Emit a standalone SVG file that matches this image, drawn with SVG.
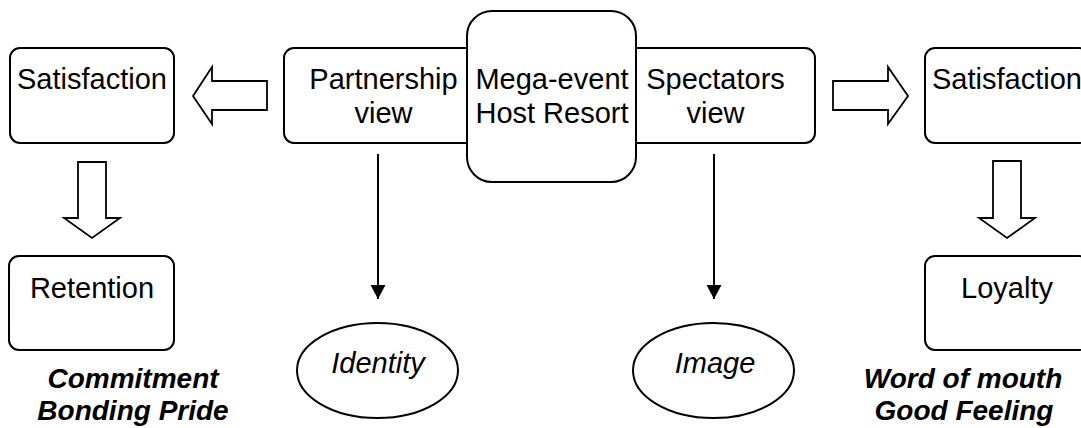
<svg xmlns="http://www.w3.org/2000/svg" width="1081" height="428" viewBox="0 0 1081 428">
  <defs>
    <style>
      .box { fill: #ffffff; stroke: #000000; stroke-width: 2; }
      .block { fill: #ffffff; stroke: #000000; stroke-width: 1.8; stroke-linejoin: miter; }
      .link { stroke: #000000; stroke-width: 2; fill: none; }
      .lbl { font-family: "Liberation Sans", Arial, sans-serif; font-size: 29px; fill: #000000; text-anchor: middle; }
      .it { font-style: italic; }
      .bi { font-style: italic; font-weight: bold; font-size: 28px; }
    </style>
    <marker id="head" markerWidth="16" markerHeight="16" refX="14" refY="7.5" orient="auto" markerUnits="userSpaceOnUse">
      <path d="M0,0 L14,7.5 L0,15 Z" fill="#000000"/>
    </marker>
  </defs>

  <rect width="1081" height="428" fill="#ffffff"/>

  <!-- side views sit behind the central host node -->
  <g id="partnership-view">
    <rect class="box" x="284" y="48" width="200" height="95" rx="10"/>
    <text class="lbl" x="383.5" y="89">Partnership</text>
    <text class="lbl" x="383.5" y="123">view</text>
  </g>

  <g id="spectators-view">
    <rect class="box" x="616" y="48" width="199" height="95" rx="10"/>
    <text class="lbl" x="715.5" y="89">Spectators</text>
    <text class="lbl" x="715.5" y="123">view</text>
  </g>

  <g id="host-resort">
    <rect class="box" x="467" y="11" width="169" height="171" rx="25"/>
    <text class="lbl" x="552" y="89">Mega-event</text>
    <text class="lbl" x="552" y="123">Host Resort</text>
  </g>

  <g id="satisfaction-left">
    <rect class="box" x="10" y="48" width="164" height="95" rx="10"/>
    <text class="lbl" x="92" y="89">Satisfaction</text>
  </g>

  <g id="satisfaction-right">
    <rect class="box" x="925" y="48" width="164" height="95" rx="10"/>
    <text class="lbl" x="1007" y="89">Satisfaction</text>
  </g>

  <g id="retention">
    <rect class="box" x="9" y="256" width="165" height="94" rx="10"/>
    <text class="lbl" x="92" y="298">Retention</text>
  </g>

  <g id="loyalty">
    <rect class="box" x="925" y="256" width="164" height="94" rx="10"/>
    <text class="lbl" x="1007" y="298">Loyalty</text>
  </g>

  <g id="identity">
    <ellipse class="box" cx="377.5" cy="370.5" rx="80.5" ry="47.5"/>
    <text class="lbl it" x="378" y="373">Identity</text>
  </g>

  <g id="image">
    <ellipse class="box" cx="713.5" cy="370.5" rx="80.5" ry="47.5"/>
    <text class="lbl it" x="715" y="373">Image</text>
  </g>

  <g id="outcomes-left">
    <text class="lbl bi" x="133" y="388">Commitment</text>
    <text class="lbl bi" x="133" y="420">Bonding Pride</text>
  </g>

  <g id="outcomes-right">
    <text class="lbl bi" x="963" y="388">Word of mouth</text>
    <text class="lbl bi" x="964" y="420">Good Feeling</text>
  </g>

  <g id="connectors">
    <!-- block arrows -->
    <path class="block" d="M267,81 L212,81 L212,67 L193,96 L212,124 L212,110 L267,110 Z"/>
    <path class="block" d="M833,81 L888,81 L888,67 L908,96 L888,124 L888,110 L833,110 Z"/>
    <path class="block" d="M78,162 L106,162 L106,218 L120,218 L92,238 L64,218 L78,218 Z"/>
    <path class="block" d="M993,161 L1021,161 L1021,218 L1035,218 L1007,238 L979,218 L993,218 Z"/>
    <!-- plain arrows -->
    <line class="link" x1="378" y1="154" x2="378" y2="299" marker-end="url(#head)"/>
    <line class="link" x1="714" y1="154" x2="714" y2="299" marker-end="url(#head)"/>
  </g>
</svg>
